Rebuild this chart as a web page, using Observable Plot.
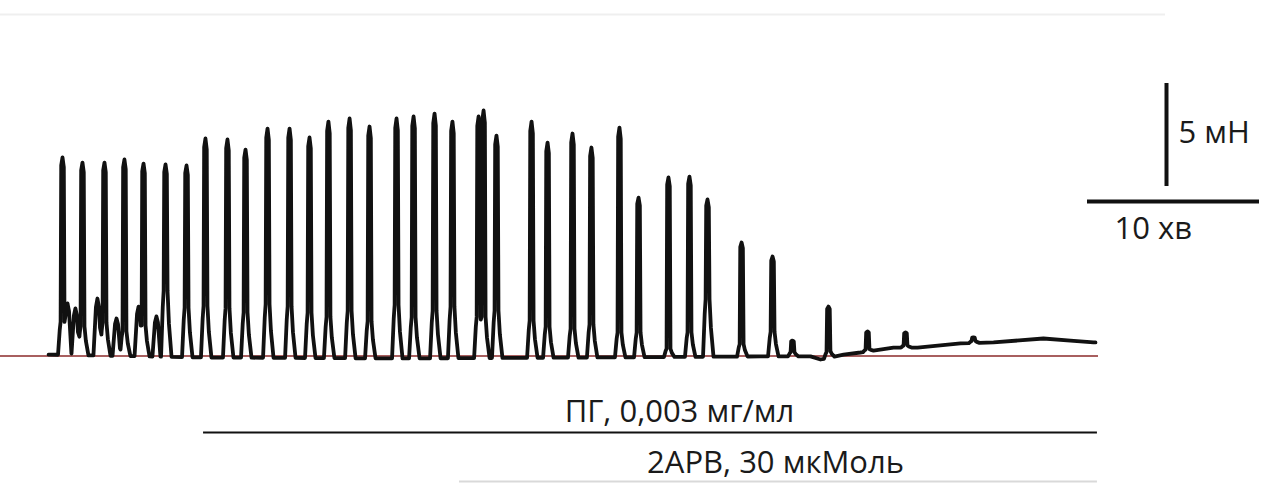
<!DOCTYPE html>
<html>
<head>
<meta charset="utf-8">
<script src="https://cdn.jsdelivr.net/npm/d3@7"></script>
<script src="https://cdn.jsdelivr.net/npm/@observablehq/plot@0.6"></script>
<style>
  html, body { margin: 0; padding: 0; background: #fff; }
  #chart svg { display: block; background: #fff; }
</style>
</head>
<body>
<div id="chart"></div>
<script>
// Isometric contractions: peak time (min) and peak force (mN)
const peakTime = [1.28, 2.44, 3.72, 4.88, 5.99, 7.27, 8.49, 9.59, 10.87, 11.92,
  13.20, 14.48, 15.64, 16.74, 17.97, 19.13, 20.70, 21.69, 22.91, 23.95,
  25.47, 25.76, 26.51, 28.55, 29.48, 30.93, 32.03, 33.66, 34.77, 36.51,
  37.73, 38.78, 40.76, 42.56, 43.72, 45.81, 48.08, 50.29, 54.24];
const peakForce = [9.64, 9.39, 9.39, 9.54, 9.34, 9.30, 9.25, 10.56, 10.51, 10.02,
  11.04, 11.04, 10.61, 11.38, 11.53, 11.14, 11.53, 11.63, 11.77, 11.38,
  11.63, 11.92, 10.70, 11.38, 10.36, 10.80, 10.12, 11.09, 7.69, 8.67,
  8.71, 7.60, 5.51, 4.83, 0.75, 2.40, 1.19, 1.14, 0.90];
// Force level of the slower component at the foot of each contraction (mN)
const shoulderForce = [1.6, 1.4, 1.6, 1.2, 1.5, 3.2, 2.4, 2.5, 2.4, 2.2,
  2.6, 2.5, 2.2, 2.0, 2.3, 1.8, 2.6, 2.0, 2.3, 2.5,
  2.0, 2.0, 2.3, 1.8, 1.5, 1.4, 1.6, 1.2, 1.2, 0.4,
  1.2, 2.8, 0.6, 1.2, 0.2, 0.3, 0.1, 0.1, 0.1];
// Small irregular contractions between the main ones (min, mN)
const bumpTime = [1.57, 2.03, 3.31, 4.42, 5.70, 6.74];
const bumpForce = [2.55, 2.31, 2.79, 1.82, 2.40, 1.92];
// Resting tone (min, mN)
const baseTime = [0.47, 9.30, 20.93, 32.56, 41.86, 44.77, 45.35, 46.69, 47.67, 49.59,
  50.99, 53.49, 55.41, 58.31, 59.88, 61.22];
const baseForce = [0.07, -0.07, -0.12, -0.07, -0.02, -0.02, -0.17, 0.07, 0.17, 0.41,
  0.41, 0.61, 0.66, 0.85, 0.75, 0.66];
// Application periods
const treatLabel = ["ПГ, 0,003 мг/мл", "2APB, 30 мкМоль"];
const treatStart = [9.48, 24.36];
const treatEnd = [61.45, 61.45];
// Calibration bars
const barForce = 5, barForceLabel = "5 мН";
const barTime = 10, barTimeLabel = "10 хв";

// ---- drawing ----
const W = 1261, H = 483;
const pxPerMin = 17.2, pxPerMN = 20.6, x0px = 40, y0px = 355.5;
const xDomain = [-x0px / pxPerMin, (W - x0px) / pxPerMin];
const yDomain = [(y0px - H) / pxPerMN, y0px / pxPerMN];
const PX = 1 / pxPerMin;          // one drawing pixel, in minutes
const PY = 1 / pxPerMN;           // one drawing pixel, in mN

function baseAt(t) {
  if (t <= baseTime[0]) return baseForce[0];
  const n = baseTime.length;
  if (t >= baseTime[n - 1]) return baseForce[n - 1];
  const i = d3.bisectRight(baseTime, t);
  const a = baseTime[i - 1], b = baseTime[i];
  return baseForce[i - 1] + (baseForce[i] - baseForce[i - 1]) * (t - a) / (b - a);
}
function shapeAt(shape, t) {
  if (t <= shape[0][0] || t >= shape[shape.length - 1][0]) return 0;
  for (let k = 1; k < shape.length; k++) {
    if (t <= shape[k][0]) {
      const [ta, va] = shape[k - 1], [tb, vb] = shape[k];
      return va + (vb - va) * (t - ta) / (tb - ta);
    }
  }
  return 0;
}

// each contraction: a slow foot with a fast, narrow twitch on top
const events = [];
peakTime.forEach((t, i) => {
  const amp = peakForce[i] - baseAt(t);
  const s = Math.min(shoulderForce[i], amp * 0.8);
  events.push([[t - 4.5 * PX, 0], [t - 2.8 * PX, 0.75 * s], [t - 1.9 * PX, s], [t - 1.3 * PX, 0.96 * amp],
    [t, amp], [t + 1.3 * PX, 0.95 * amp], [t + 2 * PX, s], [t + 3.4 * PX, 0.5 * s], [t + 6 * PX, 0]]);
});
bumpTime.forEach((t, i) => {
  const amp = bumpForce[i] - baseAt(t);
  events.push([[t - 4 * PX, 0], [t - 1.5 * PX, 0.85 * amp], [t, amp], [t + 1.5 * PX, 0.85 * amp], [t + 4 * PX, 0]]);
});

const tStart = baseTime[0], tEnd = baseTime[baseTime.length - 1] + 2 * PX;
const times = Array.from(new Set([tStart, tEnd, ...baseTime, ...events.flatMap(e => e.map(v => v[0]))]))
  .filter(t => t >= tStart && t <= tEnd)
  .sort((a, b) => a - b);
const trace = times.map(t => ({
  t,
  f: baseAt(t) + Math.max(0, ...events.map(e => shapeAt(e, t)))
}));

const treatments = treatLabel.map((label, i) => ({label, start: treatStart[i], end: treatEnd[i]}));
const treatLevel = [(y0px - 432) * PY, (y0px - 481) * PY];
const treatTextX = [(679 - x0px) * PX, (775 - x0px) * PX];
const treatStroke = ["#111", "#d9d9d9"];

const barX = (1166 - x0px) * PX, barY0 = (y0px - 186) * PY;
const hBarY = (y0px - 201) * PY, hBarX0 = (1087 - x0px) * PX;

const chart = Plot.plot({
  width: W,
  height: H,
  margin: 0,
  x: {domain: xDomain, axis: null},
  y: {domain: yDomain, axis: null},
  style: {background: "#fff", fontFamily: "Open Sans"},
  marks: [
    // faint frame edge at the top
    Plot.ruleY([(y0px - 14) * PY], {x1: xDomain[0], x2: (1165 - x0px) * PX, stroke: "#efefef", strokeWidth: 2}),
    // zero level
    Plot.ruleY([0], {x1: xDomain[0], x2: (1098 - x0px) * PX, stroke: "#8b2a2a", strokeWidth: 1.4}),
    // force trace
    Plot.line(trace, {x: "t", y: "f", stroke: "#111", strokeWidth: 3.8, strokeLinejoin: "round", strokeLinecap: "round"}),
    // application periods
    ...treatments.map((d, i) => Plot.ruleY([treatLevel[i]], {x1: d.start, x2: d.end, stroke: treatStroke[i], strokeWidth: 2.2})),
    ...treatments.map((d, i) => Plot.text([d], {x: () => treatTextX[i], y: () => treatLevel[i], dy: i === 0 ? -20 : -18,
      text: "label", fontSize: 31, fill: "#1a1a1a", fontFamily: "Open Sans"})),
    // calibration bars
    Plot.ruleX([barX], {y1: barY0, y2: barY0 + barForce, stroke: "#111", strokeWidth: 4}),
    Plot.ruleY([hBarY], {x1: hBarX0, x2: hBarX0 + barTime, stroke: "#111", strokeWidth: 4}),
    Plot.text([barForceLabel], {x: (1178 - x0px) * PX, y: (y0px - 133) * PY, text: d => d, textAnchor: "start",
      fontSize: 31, fill: "#1a1a1a", fontFamily: "Open Sans"}),
    Plot.text([barTimeLabel], {x: (1114 - x0px) * PX, y: (y0px - 229) * PY, text: d => d, textAnchor: "start",
      fontSize: 31, fill: "#1a1a1a", fontFamily: "Open Sans"})
  ]
});
document.getElementById("chart").append(chart);
</script>
</body>
</html>
